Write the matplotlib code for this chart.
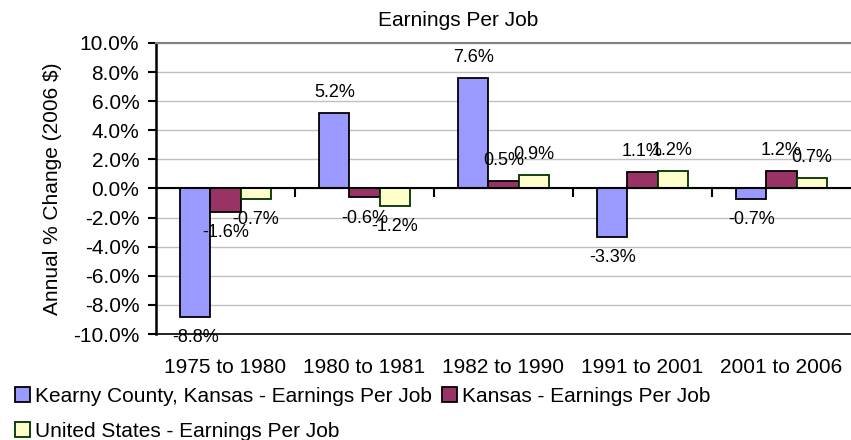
import numpy as np
import matplotlib
matplotlib.use('Agg')
import matplotlib.pyplot as plt
from matplotlib.patches import Patch

plt.rcParams['font.family'] = ['Liberation Sans', 'DejaVu Sans']

# periods and annual % change values
periods = ['1975 to 1980', '1980 to 1981', '1982 to 1990', '1991 to 2001', '2001 to 2006']
kearny = [-8.8, 5.2, 7.6, -3.3, -0.7]
kansas = [-1.6, -0.6, 0.5, 1.1, 1.2]
us = [-0.7, -1.2, 0.9, 1.2, 0.7]

series_names = ['Kearny County, Kansas - Earnings Per Job',
                'Kansas - Earnings Per Job',
                'United States - Earnings Per Job']
face_colors = ['#9999FF', '#993366', '#FFFFCC']
edge_colors = ['black', 'black', '#003300']

fig = plt.figure(figsize=(8.51, 4.4), dpi=100)
ax = fig.add_axes([156 / 851, 106 / 440, 695 / 851, 291 / 440])

x = np.arange(len(periods))
width = 0.216
offsets = [-width, 0, width]

for vals, off, fc, ec in zip([kearny, kansas, us], offsets, face_colors, edge_colors):
    bars = ax.bar(x + off, vals, width, color=fc, edgecolor=ec, linewidth=1.3, zorder=3)
    for b, v in zip(bars, vals):
        dy = 15 if v >= 0 else -15
        ax.annotate('%.1f%%' % v, (b.get_x() + b.get_width() / 2, v),
                    xytext=(0, dy), textcoords='offset points',
                    ha='center', va='center', fontsize=13, zorder=5)

ax.set_xlim(-0.5, len(periods) - 0.5)
ax.set_ylim(-10, 10)

# gridlines
ax.set_yticks(np.arange(-10, 10.1, 2))
ax.set_yticklabels(['%.1f%%' % t for t in np.arange(-10, 10.1, 2)], fontsize=15)
ax.yaxis.grid(True, color='#C0C0C0', linewidth=1, zorder=0)
ax.set_axisbelow(True)
ax.tick_params(axis='y', direction='out', length=6, width=1.5, pad=6)

ax.set_xticks(x)
ax.set_xticklabels(periods, fontsize=15)
ax.tick_params(axis='x', length=0, pad=17)

# zero line with category tick marks
ax.axhline(0, color='black', linewidth=1.5, zorder=4)
bounds = np.arange(0.5, len(periods) - 0.5, 1)
ax.vlines(bounds, -0.55, 0, color='black', linewidth=1.5, zorder=4)

ax.spines['left'].set_linewidth(1.8)
ax.spines['bottom'].set_linewidth(1.2)
ax.spines['top'].set_color('#808080')
ax.spines['top'].set_linewidth(1.5)
ax.spines['right'].set_visible(False)

ax.set_ylabel('Annual % Change (2006 $)', fontsize=15)
ax.yaxis.set_label_coords(-0.135, 0.5)

fig.text(458 / 851, 1 - 20 / 440, 'Earnings Per Job', ha='center', va='center', fontsize=15)

handles = [Patch(facecolor=fc, edgecolor=ec, linewidth=1.3)
           for fc, ec in zip(face_colors, edge_colors)]
order = [0, 2, 1]
fig.legend([handles[i] for i in order], [series_names[i] for i in order],
           ncol=2, loc='upper left', bbox_to_anchor=(15 / 851, (440 - 387) / 440),
           frameon=False, fontsize=15, borderpad=0, borderaxespad=0,
           handlelength=0.7, handleheight=0.7, handletextpad=0.25,
           columnspacing=0.5, labelspacing=0.75)

fig.savefig('out.png', dpi=100)
